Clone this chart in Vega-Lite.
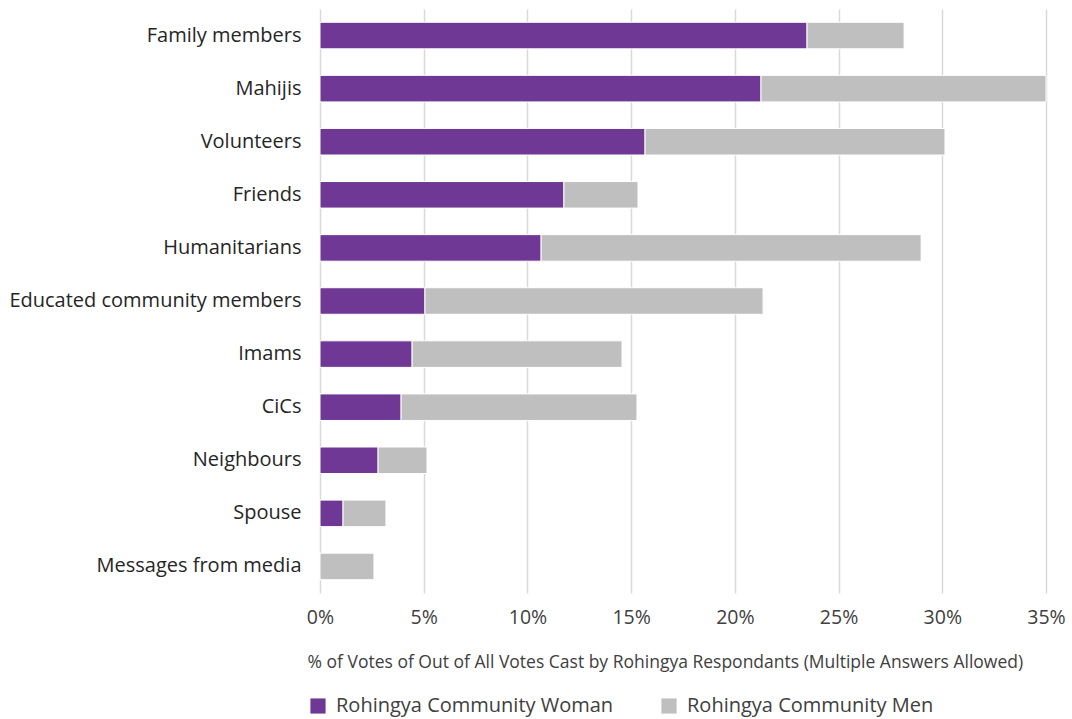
{
  "$schema": "https://vega.github.io/schema/vega-lite/v6.json",
  "width": 726,
  "height": 584,
  "autosize": "none",
  "padding": {"left": 320, "top": 9, "right": 26, "bottom": 126},
  "background": "white",
  "config": {
    "font": "Open Sans",
    "view": {"stroke": null}
  },
  "data": {
    "values": [
      {"source": "Family members", "group": "Rohingya Community Woman", "pct": 23.48},
      {"source": "Family members", "group": "Rohingya Community Men", "pct": 4.68},
      {"source": "Mahijis", "group": "Rohingya Community Woman", "pct": 21.26},
      {"source": "Mahijis", "group": "Rohingya Community Men", "pct": 13.74},
      {"source": "Volunteers", "group": "Rohingya Community Woman", "pct": 15.67},
      {"source": "Volunteers", "group": "Rohingya Community Men", "pct": 14.46},
      {"source": "Friends", "group": "Rohingya Community Woman", "pct": 11.76},
      {"source": "Friends", "group": "Rohingya Community Men", "pct": 3.57},
      {"source": "Humanitarians", "group": "Rohingya Community Woman", "pct": 10.66},
      {"source": "Humanitarians", "group": "Rohingya Community Men", "pct": 18.32},
      {"source": "Educated community members", "group": "Rohingya Community Woman", "pct": 5.06},
      {"source": "Educated community members", "group": "Rohingya Community Men", "pct": 16.30},
      {"source": "Imams", "group": "Rohingya Community Woman", "pct": 4.44},
      {"source": "Imams", "group": "Rohingya Community Men", "pct": 10.12},
      {"source": "CiCs", "group": "Rohingya Community Woman", "pct": 3.91},
      {"source": "CiCs", "group": "Rohingya Community Men", "pct": 11.37},
      {"source": "Neighbours", "group": "Rohingya Community Woman", "pct": 2.80},
      {"source": "Neighbours", "group": "Rohingya Community Men", "pct": 2.36},
      {"source": "Spouse", "group": "Rohingya Community Woman", "pct": 1.11},
      {"source": "Spouse", "group": "Rohingya Community Men", "pct": 2.07},
      {"source": "Messages from media", "group": "Rohingya Community Woman", "pct": 0},
      {"source": "Messages from media", "group": "Rohingya Community Men", "pct": 2.60}
    ]
  },
  "mark": {"type": "bar", "stroke": "white", "strokeWidth": 1},
  "encoding": {
    "y": {
      "field": "source",
      "type": "nominal",
      "sort": null,
      "scale": {"paddingInner": 0.5, "paddingOuter": 0.25},
      "axis": {
        "title": null,
        "domain": false,
        "ticks": false,
        "labelFontSize": 20,
        "labelColor": "#262626",
        "labelPadding": 19,
        "labelLimit": 400
      }
    },
    "x": {
      "field": "pct",
      "type": "quantitative",
      "stack": "zero",
      "scale": {"domain": [0, 35], "nice": false},
      "axis": {
        "values": [0, 5, 10, 15, 20, 25, 30, 35],
        "labelExpr": "datum.value + '%'",
        "labelFlush": false,
        "domain": false,
        "ticks": false,
        "gridColor": "#d9d9d9",
        "gridWidth": 1.5,
        "labelFontSize": 19.5,
        "labelColor": "#404040",
        "labelPadding": 15,
        "title": "% of Votes of Out of All Votes Cast by Rohingya Respondants (Multiple Answers Allowed)",
        "titleFontSize": 17.5,
        "titleFontWeight": "normal",
        "titleColor": "#404040",
        "titleAnchor": "start",
        "titleAlign": "left",
        "titleX": -13,
        "titleY": 60
      }
    },
    "color": {
      "field": "group",
      "type": "nominal",
      "scale": {
        "domain": ["Rohingya Community Woman", "Rohingya Community Men"],
        "range": ["#6f3894", "#bfbfbf"]
      },
      "legend": {
        "title": null,
        "orient": "none",
        "legendX": -12,
        "legendY": 687,
        "direction": "horizontal",
        "symbolType": "square",
        "symbolSize": 230,
        "symbolStrokeWidth": 0,
        "labelFontSize": 20,
        "labelColor": "#404040",
        "labelLimit": 400,
        "columnPadding": 45,
        "labelOffset": 8
      }
    },
    "order": {"field": "group", "sort": "descending"}
  }
}
